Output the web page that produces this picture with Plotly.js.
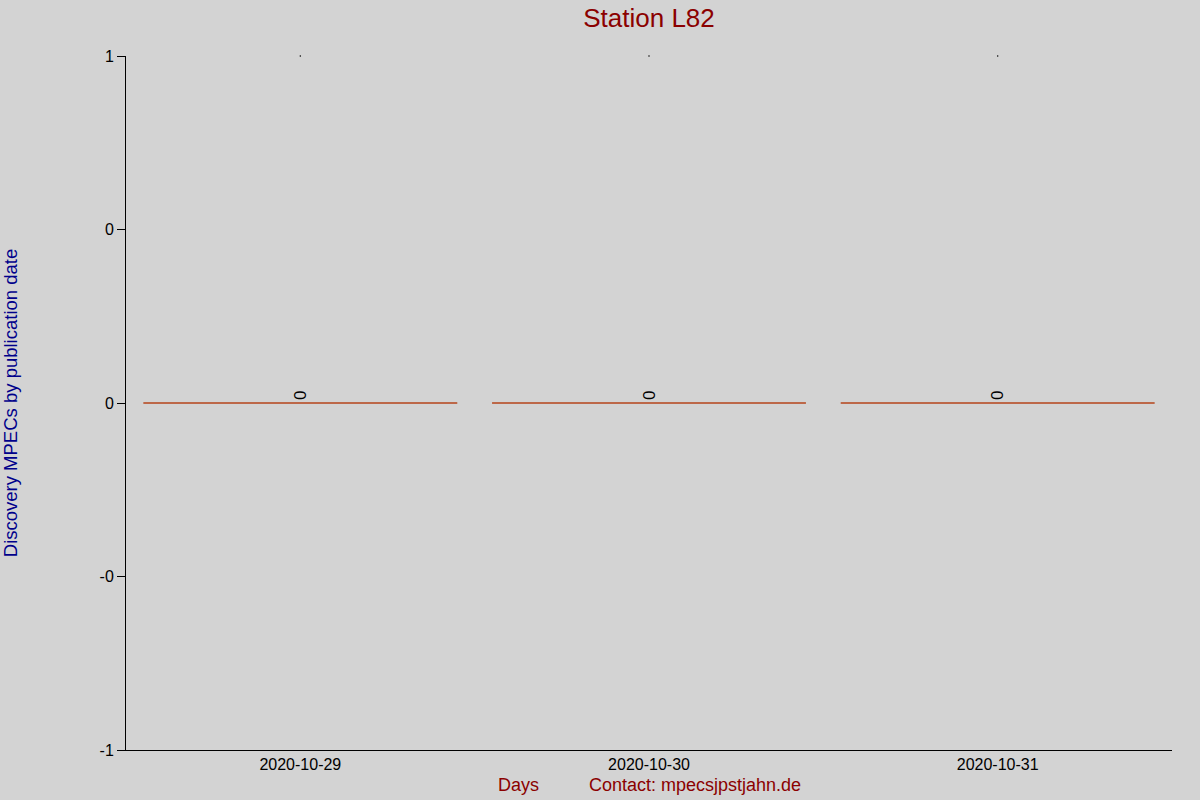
<!DOCTYPE html>
<html>
<head>
<meta charset="utf-8">
<script src="https://cdn.plot.ly/plotly-3.0.1.min.js"></script>
<style>
  html, body { margin: 0; padding: 0; background: #d3d3d3; }
  #chart { width: 1200px; height: 800px; }
</style>
</head>
<body>
<div id="chart"></div>
<script>
// ── Data ────────────────────────────────────────────────────────────────
const days     = ['2020-10-29', '2020-10-30', '2020-10-31'];
const mpecs    = [0, 0, 0];
const topDots  = [1, 1, 1];
const yTicks   = [-1, -0.5, 0, 0.5, 1];
const yLabels  = ['-1', '-0', '0', '0', '1'];

const darkRed  = '#8b0000';
const font     = 'Arial, "Liberation Sans", sans-serif';

// ── Traces ──────────────────────────────────────────────────────────────
const traces = [
  {
    type: 'bar',
    x: days, y: mpecs,
    width: 0.9,
    marker: {color: 'rgba(0,0,0,0)', line: {color: '#b5441a', width: 1}},
    text: mpecs.map(String),
    textposition: 'outside',
    textangle: -90,
    textfont: {family: font, size: 17, color: '#000'},
    cliponaxis: false,
    hoverinfo: 'x+y',
  },
  {
    type: 'scatter', mode: 'markers',
    x: days, y: topDots,
    marker: {color: '#000', size: 1.5},
    cliponaxis: false,
    hoverinfo: 'skip',
  },
];

const layout = {
  width: 1200, height: 800,
  margin: {l: 126, r: 28, t: 56, b: 50},
  paper_bgcolor: '#d3d3d3',
  plot_bgcolor:  '#d3d3d3',
  showlegend: false,
  font: {family: font, size: 16, color: '#000'},
  title: {
    text: 'Station L82',
    font: {family: font, size: 26, color: darkRed},
    x: 0.5, xref: 'paper', y: 0.978, yanchor: 'middle',
  },
  xaxis: {
    type: 'category',
    showline: true, linecolor: '#000', linewidth: 1,
    showgrid: false, zeroline: false,
    ticks: '',
    tickfont: {family: font, size: 16, color: '#000'},
  },
  yaxis: {
    range: [-1, 1],
    tickvals: yTicks, ticktext: yLabels,
    showline: true, linecolor: '#000', linewidth: 1,
    ticks: 'outside', ticklen: 8, tickcolor: '#000',
    showgrid: false, zeroline: false,
    tickfont: {family: font, size: 16, color: '#000'},
    title: {
      text: 'Discovery MPECs by publication date',
      font: {family: font, size: 18.5, color: '#00008b'},
      standoff: 78,
    },
  },
  annotations: [
    {text: 'Days', xref: 'paper', yref: 'paper', x: 0.3748, y: -0.0504,
     yanchor: 'middle', showarrow: false, font: {family: font, size: 18, color: darkRed}},
    {text: 'Contact: mpecsjpstjahn.de', xref: 'paper', yref: 'paper', x: 0.544, y: -0.0504,
     yanchor: 'middle', showarrow: false, font: {family: font, size: 18, color: darkRed}},
  ],
};

Plotly.newPlot('chart', traces, layout, {displayModeBar: false, staticPlot: true});
</script>
</body>
</html>
